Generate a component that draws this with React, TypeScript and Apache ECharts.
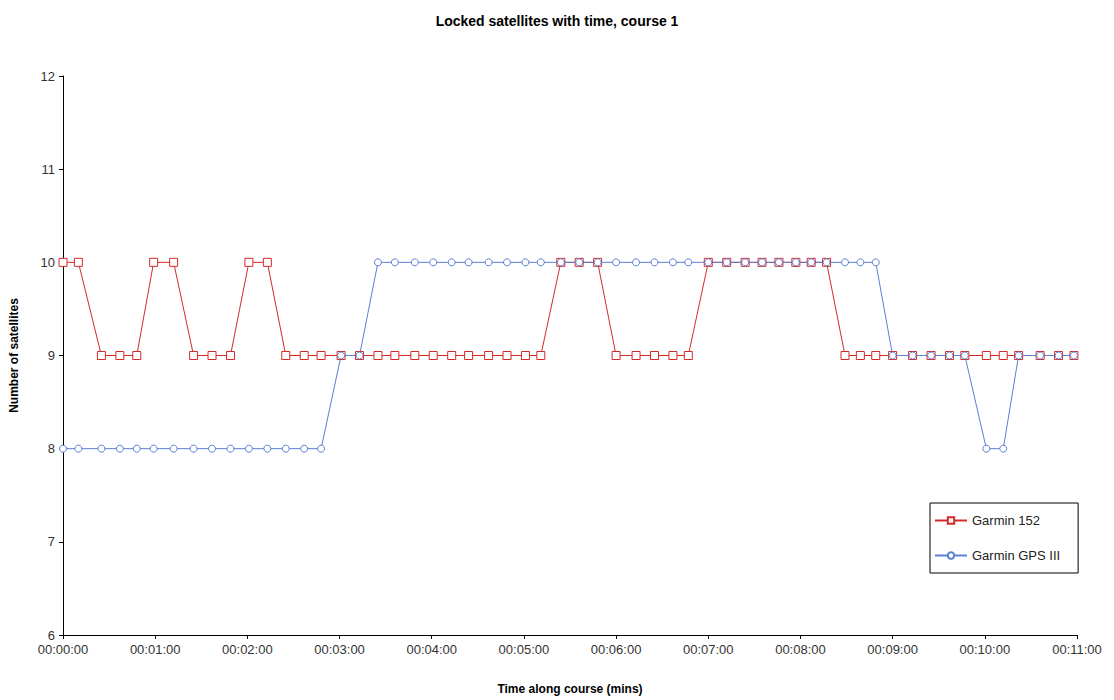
import React, { useEffect, useRef } from "react";
import * as echarts from "echarts";

// Elapsed time along course, in seconds
const times: number[] = [
  0, 10, 25, 37, 48, 59, 72, 85, 97, 109, 121, 133, 145, 157, 168, 181,
  193, 205, 216, 229, 241, 253, 264, 277, 289, 301, 311, 324, 336, 348,
  360, 373, 385, 397, 407, 420, 432, 444, 455, 466, 477, 487, 497, 509,
  519, 529, 540, 553, 565, 577, 587, 601, 612, 622, 636, 648, 658,
];

const garmin152: number[] = [
  10, 10, 9, 9, 9, 10, 10, 9, 9, 9, 10, 10, 9, 9, 9, 9,
  9, 9, 9, 9, 9, 9, 9, 9, 9, 9, 9, 10, 10, 10,
  9, 9, 9, 9, 9, 10, 10, 10, 10, 10, 10, 10, 10, 9,
  9, 9, 9, 9, 9, 9, 9, 9, 9, 9, 9, 9, 9,
];

const garminGps3: number[] = [
  8, 8, 8, 8, 8, 8, 8, 8, 8, 8, 8, 8, 8, 8, 8, 9,
  9, 10, 10, 10, 10, 10, 10, 10, 10, 10, 10, 10, 10, 10,
  10, 10, 10, 10, 10, 10, 10, 10, 10, 10, 10, 10, 10, 10,
  10, 10, 9, 9, 9, 9, 9, 8, 8, 9, 9, 9, 9,
];

const seriesNames = ["Garmin 152", "Garmin GPS III"];
const titleText = "Locked satellites with time, course 1";
const xName = "Time along course (mins)";
const yName = "Number of satellites";

const pad = (n: number) => (n < 10 ? "0" + n : "" + n);
const fmtTime = (s: number) => {
  const h = Math.floor(s / 3600);
  const m = Math.floor((s % 3600) / 60);
  const sec = Math.round(s % 60);
  return pad(h) + ":" + pad(m) + ":" + pad(sec);
};

export default function App() {
  const ref = useRef<HTMLDivElement>(null);
  useEffect(() => {
    if (!ref.current) return;
    const chart = echarts.init(ref.current, undefined, { renderer: "svg" });
    const font = "'Liberation Sans', Arial, sans-serif";
    chart.setOption({
      animation: false,
      backgroundColor: "#ffffff",
      textStyle: { fontFamily: font },
      title: {
        text: titleText,
        left: "center",
        top: 9,
        textStyle: { fontSize: 14, fontWeight: "bold", color: "#000", fontFamily: font },
      },
      grid: { left: 63, right: 37, top: 76, bottom: 65, containLabel: false },
      legend: {
        orient: "vertical",
        left: 930,
        top: 503,
        backgroundColor: "#fff",
        borderColor: "#000",
        borderWidth: 1,
        padding: [11, 18, 11, 4],
        itemGap: 22,
        itemWidth: 32,
        itemHeight: 8,
        textStyle: { fontSize: 13, color: "#222", fontFamily: font },
        data: seriesNames,
      },
      xAxis: {
        type: "value",
        min: 0,
        max: 660,
        interval: 60,
        name: xName,
        nameLocation: "middle",
        nameGap: 48,
        nameTextStyle: { fontSize: 12, fontWeight: "bold", color: "#000", fontFamily: font },
        axisLine: { show: true, lineStyle: { color: "#000", width: 1 } },
        axisTick: { show: true, length: 4, lineStyle: { color: "#000" } },
        splitLine: { show: false },
        axisLabel: {
          fontSize: 13,
          color: "#333",
          margin: 8,
          formatter: (v: number) => fmtTime(v),
        },
      },
      yAxis: {
        type: "value",
        min: 6,
        max: 12,
        interval: 1,
        name: yName,
        nameLocation: "middle",
        nameGap: 43,
        nameTextStyle: { fontSize: 12, fontWeight: "bold", color: "#000", fontFamily: font },
        axisLine: { show: true, lineStyle: { color: "#000", width: 1 } },
        axisTick: { show: true, length: 4, lineStyle: { color: "#000" } },
        splitLine: { show: false },
        axisLabel: { fontSize: 13, color: "#333", margin: 8 },
      },
      series: [
        {
          name: seriesNames[0],
          type: "line",
          data: times.map((t, i) => [t, garmin152[i]]),
          symbol: "rect",
          symbolSize: 8,
          lineStyle: { color: "#d42a2a", width: 1 },
          itemStyle: { color: "#ffffff", borderColor: "#d42a2a", borderWidth: 1 },
          emphasis: { disabled: true },
        },
        {
          name: seriesNames[1],
          type: "line",
          data: times.map((t, i) => [t, garminGps3[i]]),
          symbol: "circle",
          symbolSize: 7,
          lineStyle: { color: "#5b7fd6", width: 1 },
          itemStyle: { color: "#ffffff", borderColor: "#5b7fd6", borderWidth: 1 },
          emphasis: { disabled: true },
        },
      ],
    });
    return () => chart.dispose();
  }, []);
  return <div ref={ref} style={{ width: 1114, height: 700, position: "absolute", left: 0, top: 0 }} />;
}
